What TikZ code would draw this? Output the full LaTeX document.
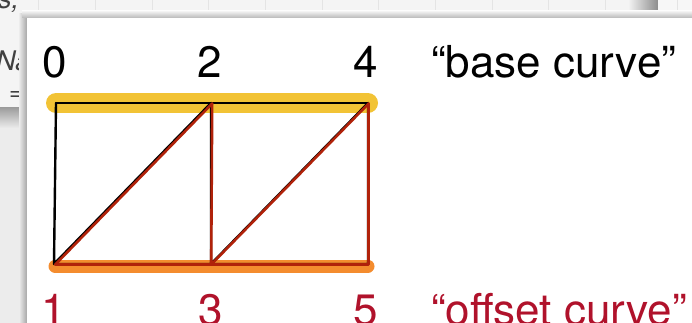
\documentclass[tikz,border=0pt]{standalone}
\usepackage{fontspec}
\setmainfont{TeX Gyre Heros}
\definecolor{bgtop}{HTML}{F4F4F4}
\definecolor{bgleft}{HTML}{ECECEC}
\definecolor{gridc}{HTML}{E4E4E4}
\definecolor{yband}{HTML}{F2C335}
\definecolor{oband}{HTML}{F48C2E}
\definecolor{redline}{HTML}{B0220A}
\definecolor{redtext}{HTML}{B0122B}
\begin{document}
\begin{tikzpicture}[x=1pt,y=-1pt,
  blackmesh/.style={line width=2.4pt, black, line join=round, line cap=round},
  redmesh/.style={line width=2.6pt, redline, line join=round, line cap=round},
  band/.style={line width=#1, line cap=round},
  lbl/.style={font=\fontsize{44}{44}\selectfont, anchor=base, inner sep=0pt},
  bgtxt/.style={font=\itshape\fontsize{27}{27}\selectfont, anchor=base west, inner sep=0pt, black!75}
]
\useasboundingbox (0,0) rectangle (692,323);
\clip (0,0) rectangle (692,323);
% background window
\fill[bgleft] (0,0) rectangle (692,323);
\fill[bgtop] (0,0) rectangle (692,108);
\foreach \x in {38,95,152,208,265,322,378,435,492,548,605}
  \draw[gridc, line width=0.7pt] (\x,0) -- (\x,18);
\shade[top color=black!38, bottom color=bgleft] (0,108) rectangle (27,128);
\shade[left color=bgtop, right color=black!45] (628,0) rectangle (658,18);
\fill[white!97!black] (658,0) rectangle (692,18);
\draw[gridc, line width=0.7pt] (677,0) -- (677,18);
\node[bgtxt] (bgs) at (-2,9) {s,};
\node[bgtxt] (bgname) at (-4,71) {Nai};
\node[bgtxt, font=\fontsize{24}{24}\selectfont] (bgeq) at (9,101) {=};
% panel shadow
\shade[left color=bgleft, right color=black!35] (19,14) rectangle (27,323);
\shade[top color=bgtop, bottom color=black!28] (22,11) rectangle (692,18);
\fill[white] (27,18) rectangle (692,323);

% mesh points
\coordinate (b0) at (56,103);
\coordinate (b2) at (211,103);
\coordinate (b4) at (368,103);
\coordinate (b1) at (54,264);
\coordinate (b3) at (211,264);
\coordinate (b5) at (368,264);
\coordinate (r0) at (57,103.5);
\coordinate (r2) at (212.2,103.5);
\coordinate (r4) at (368.6,103.5);
\coordinate (r1) at (55.3,264.5);
\coordinate (r3) at (211.2,264.5);
\coordinate (r5) at (368.6,264.5);

% highlight bands
\draw[band=20pt, yband] (b0) -- (b4);
\draw[band=13pt, oband] (55,266) -- (368,266);

% base curve mesh (black)
\draw[blackmesh] (b0) -- (b2) -- (b4);
\draw[blackmesh] (b0) -- (b1) -- (b2) -- (b3) -- (b4) -- (b5) -- (b3) -- (b1);
% offset curve mesh (red)
\draw[redmesh] (r1) -- (r3) -- (r5) -- (r4);
\draw[redmesh] (r1) -- (r2) -- (r3) -- (r4);

% labels
\node[lbl] (l0) at (55,78) {0};
\node[lbl] (l2) at (210,78) {2};
\node[lbl] (l4) at (366,78) {4};
\node[lbl, anchor=base west] (lbase) at (431,78) {“base curve”};
\node[lbl, redtext] (l1) at (54,325) {1};
\node[lbl, redtext] (l3) at (211,325) {3};
\node[lbl, redtext] (l5) at (366,325) {5};
\node[lbl, redtext, anchor=base west] (loffset) at (431,325) {“offset curve”};
\end{tikzpicture}
\end{document}
